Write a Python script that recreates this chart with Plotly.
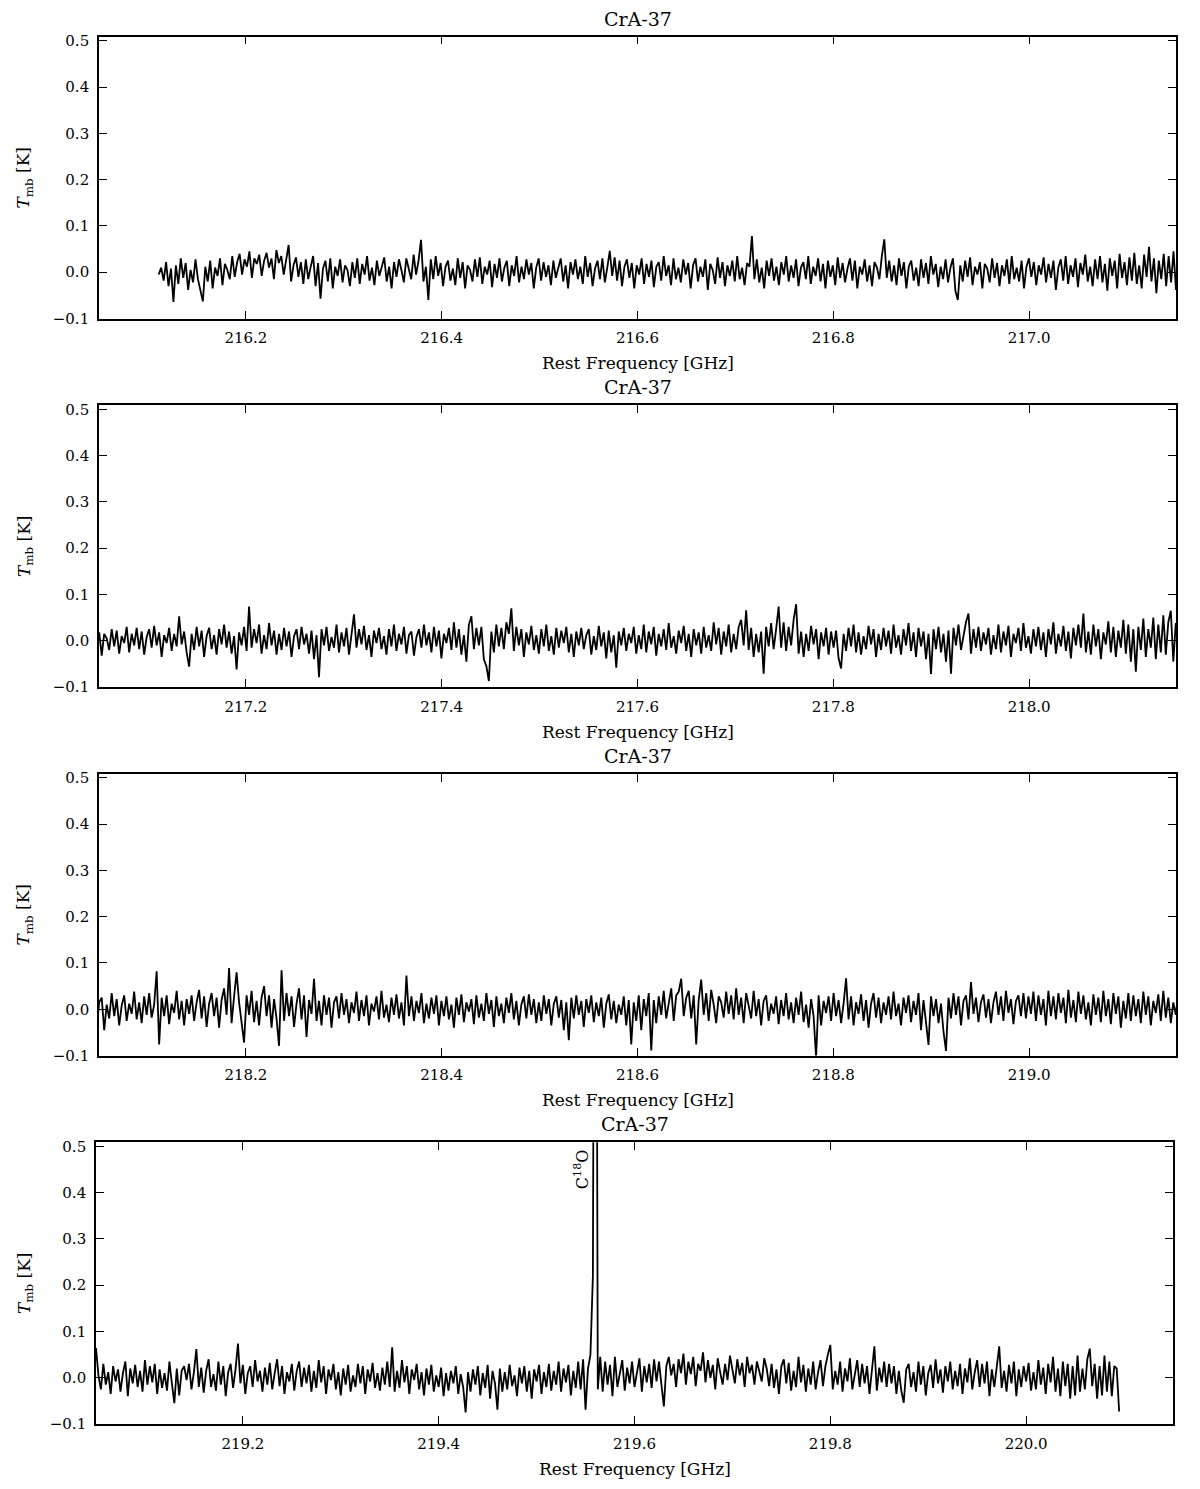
import numpy as np
import plotly.graph_objects as go

# ---------------- data (main-beam temperature in mK) ----------------
# channel grid of each panel: first channel [GHz], last channel [GHz], number of channels
grid1 = (216.111, 217.160, 420)
grid2 = (217.040, 218.160, 440)
grid3 = (218.040, 219.160, 440)
grid4 = (219.0425, 220.095, 422)

tmb1_mK = [
    -5, 10, -18, 22, -30, 8, -64, 15, -25, 30, -12, 20, -38, 5, -22, 28, -15, -40, -63, 12,
    -20, 25, -35, 10, -8, 30, -28, 18, 5, -15, 35, -10, 22, 40, -5, 28, 12, 45, -12, 30,
    18, 38, -8, 25, 42, 10, 30, -15, 48, 20, 35, -5, 25, 59, -20, 15, 32, -10, 22, -25,
    28, -15, 12, 35, -30, 20, -57, 8, 25, -20, 30, -35, 12, -8, 28, -22, 15, 5, -30, 22,
    -12, 30, -25, 18, -5, 35, -18, 10, -28, 25, -8, 15, 32, -20, 12, -35, 22, -10, 28, 5,
    -22, 30, 10, -15, 38, -5, 25, 70, -20, 12, -60, 28, -15, 35, -8, 20, -30, 12, 25, -18,
    8, -28, 30, -12, 22, -35, 15, 5, -20, 28, -10, 32, -25, 12, -5, 25, -32, 18, -12, 30,
    -20, 10, 25, -30, 15, -8, 35, -22, 12, -15, 28, -5, 20, -35, 10, 30, -18, 22, -10, 15,
    -28, 25, -12, 8, 30, -20, 15, -35, 22, -5, 28, -15, 12, -25, 35, -10, 20, -30, 8, 25,
    -15, 30, -22, 10, 46, -8, 32, -18, 25, -30, 12, 28, -12, 20, -35, 15, -5, 30, -25, 18,
    -10, 25, -32, 12, 22, -18, 35, -8, 15, -28, 30, -15, 10, -22, 28, -5, 20, -35, 15, 30,
    -20, 12, -10, 28, -38, 18, 5, -25, 32, -12, 22, -30, 15, -8, 25, -20, 35, -15, 10, -28,
    20, 12, 78, -15, 28, -22, 10, -35, 25, -8, 30, -18, 12, -28, 22, -5, 35, -20, 15, -12,
    28, -30, 10, 22, -15, 35, -25, 12, -8, 30, -20, 18, -35, 25, -10, 15, -28, 32, -12, 20,
    -22, 8, 30, -18, 25, -35, 12, -5, 28, -20, 15, -30, 22, 10, -15, 35, 71, -12, 25, -20,
    15, -28, 30, -8, 22, -35, 12, 25, -18, 10, -30, 28, -12, 20, -25, 35, -5, 18, -32, 12,
    -15, 28, -22, 10, 30, -40, -60, 15, -20, 25, -10, 32, -28, 12, -5, 22, -35, 18, 8, -22,
    30, -12, 20, -30, 15, -8, 28, -25, 35, -15, 10, -20, 25, -35, 12, 30, -10, 22, -28, 15,
    -5, 32, -22, 18, -12, 25, -38, 10, 28, -18, 35, -25, 15, -10, 30, -32, 20, -5, 38, -20,
    12, -30, 28, -15, 35, -22, 18, -40, 30, -8, 25, -35, 40, -12, 22, -28, 32, -18, 42, -25,
    15, -35, 38, -10, 55, -20, 30, -45, 25, -15, 40, -30, 35, -22, 45, -38, 28, -15, 40, -25,
]

tmb2_mK = [
    12, -22, 28, -8, 18, -32, 15, 5, -20, 25, -12, 22, -28, 10, -5, 30, -25, 15, -10, 28,
    -18, 20, -30, 8, 25, -15, 32, -10, 18, -35, 12, -5, 28, -22, 15, -12, 53, -8, 20, -25,
    -56, 15, -20, 30, -12, 22, -35, 10, 28, -18, 12, -30, 25, -8, 35, -15, 20, -28, 10, -62,
    18, -10, 30, -22, 74, -15, 25, -5, 35, -28, 12, -18, 38, -10, 22, -30, 15, -20, 28, -12,
    20, -35, 10, 25, -18, 30, -8, 15, -28, 22, -40, 12, -79, 25, -10, 30, -22, 8, -15, 35,
    -25, 18, -12, 28, -30, 20, 57, -15, 25, -8, 32, -20, 12, -35, 22, -5, 28, -18, 10, -30,
    25, -12, 35, -22, 15, -8, 30, -28, 12, 20, -32, 8, 25, -15, 35, -10, 18, -25, 30, -12,
    22, -38, 15, -5, 28, -20, 40, -15, 25, -30, 12, -45, 35, 53, -18, 28, -10, 30, -40, -55,
    -87, 20, -25, 35, -12, 28, -18, 40, 15, 70, -22, 30, -10, 25, -35, 18, -8, 32, -20, 12,
    -28, 25, -12, 35, -22, 10, -30, 28, -15, 22, -5, 30, -25, 15, -35, 20, -10, 28, -18, 12,
    25, -30, 10, -20, 32, -12, 18, -38, 22, -25, 12, -58, 20, -10, 28, -22, 15, -5, 30, -28,
    12, -18, 35, -25, 20, -8, 30, -32, 15, -12, 25, -20, 38, -15, 10, -28, 22, -5, 32, -22,
    15, -35, 25, -10, 18, -28, 30, -15, 12, -22, 40, -8, 28, -30, 20, -12, 35, -25, 15, -18,
    30, 45, -10, 66, -20, 28, -35, 15, -25, 20, -71, 30, -12, 38, -18, 25, 74, -15, 40, -22,
    30, -10, 45, 79, -28, 20, -35, 15, -22, 32, -8, 25, -40, 18, -12, 28, -30, 20, -15, 22,
    -38, -60, 15, -22, 28, -12, 35, -25, 18, -30, 10, -18, 32, -8, 25, -35, 15, -20, 28, -12,
    22, -28, 35, -15, 12, -30, 25, -10, 38, -22, 18, -35, 28, -12, 20, -40, 15, -72, 25, -18,
    30, -25, 15, -45, 22, -71, 28, -10, 35, -20, 12, 40, 59, -28, 25, -15, 30, -22, 18, -8,
    28, -30, 12, -18, 35, -25, 20, -10, 32, -35, 15, -5, 28, -22, 38, -15, 10, -28, 25, -12,
    30, -20, 18, -35, 25, -8, 40, -28, 15, -12, 32, -22, 20, -38, 28, -10, 35, -15, 59, -25,
    20, -30, 35, -12, 25, -40, 18, -8, 42, -25, 30, -35, 22, -15, 45, -28, 35, -45, 25, -67,
    30, -20, 48, -35, 25, -15, 50, -40, 35, -25, 55, -30, 40, 65, -45, 38, -20, 50, -35, 45,
]

tmb3_mK = [
    5, -28, 20, -40, 15, 25, -45, 10, -20, 35, -15, 22, -35, 8, 30, -25, 12, -10, 38, -22,
    15, -30, 28, -12, 35, -18, 10, 82, -76, 25, -15, 30, -32, 12, -8, 40, -22, 18, -35, 22,
    -10, 30, -25, 15, 42, -20, 28, -38, 12, 35, -15, 25, -40, 20, 45, -12, 89, -30, 28, 80,
    15, -25, -72, 30, -12, 40, -28, 18, -35, 25, 50, -15, 30, -40, 22, -20, -79, 84, -25, 35,
    -15, 28, -38, 12, 45, -22, 30, -60, 20, -10, 66, -25, 18, -35, 30, -12, 25, -40, 15, 28,
    -20, 35, -12, 22, -30, 15, -8, 38, -25, 20, -15, 30, -35, 12, -5, 28, -22, 40, -18, 10,
    -28, 25, -12, 32, -20, 15, -35, 73, -15, 28, -25, 18, -8, 35, -30, 12, -20, 25, -10, 30,
    -35, 18, -15, 28, -22, 10, -40, 25, -12, 32, -28, 15, -5, 22, -32, 30, -18, 12, -25, 35,
    -10, 20, -38, 28, -15, 12, -30, 25, -8, 35, -22, 18, -35, 10, 28, -20, 32, -12, 22, -30,
    15, -25, 30, -10, 22, -35, 12, 28, -18, 20, -45, 15, -67, 25, -20, 30, -12, 18, -38, 22,
    -8, 30, -28, 15, -15, 25, -40, 12, 32, -22, 18, -30, 10, -12, 28, -35, 20, -76, 15, -25,
    30, -45, 22, -15, 35, -89, 20, -30, 28, -12, 40, -20, 15, 45, -25, 30, 38, 66, -15, 25,
    40, -20, 30, -76, 20, 64, -12, 35, -25, 42, 10, -30, 28, 15, -18, 38, -10, 30, -22, 45,
    -12, 25, -30, 35, 8, -20, 40, -15, 22, -35, 18, 30, -25, 12, -10, 28, -32, 20, -15, 35,
    -22, 15, -30, 25, -12, 38, -28, 10, -40, 22, -15, -105, 30, -35, 18, -8, 28, -25, 35, -15,
    20, -30, 12, 67, -22, 28, -35, 15, -10, 32, -25, 20, -40, 12, 35, -18, 25, -30, 15, -12,
    28, -22, 38, -15, 12, -35, 25, -8, 30, -28, 18, -12, 35, -45, 20, -25, -77, 28, -15, 22,
    -30, 12, -48, -90, 25, -20, 35, -12, 28, -35, 18, 30, -22, 59, -10, 25, -28, 15, 32, -18,
    22, -30, 15, 38, -12, 28, -25, 40, -8, 22, -32, 18, 30, -15, 35, -20, 28, -10, 38, -25,
    30, -12, 22, -35, 40, -15, 28, -22, 35, -8, 25, -30, 42, -18, 20, -28, 38, -10, 30, -22,
    15, -35, 32, -12, 25, -28, 40, -15, 22, -32, 35, -10, 28, -40, 18, -20, 35, -25, 30, -15,
    22, -30, 38, -12, 28, -35, 18, -8, 32, -25, 40, -18, 25, -30, 15, -12, 35, -28, 22, -15,
]

tmb4_mK = [
    40, -10, 20, 64, 5, -25, 30, -15, 12, -35, 25, -8, 18, -30, 10, 35, -40, 20, -12, 28,
    -20, 15, -30, 38, -15, 25, -10, 30, -35, 18, -22, 10, -28, 35, -12, -55, 20, -38, 15, 25,
    -5, 30, -25, 12, 62, -20, 22, -32, 15, 40, -20, 8, -28, 35, -15, 25, -40, 12, 30, -22,
    18, 74, -12, 28, -35, 10, 25, -20, 38, -8, 15, -30, 22, -15, 32, -25, 10, 40, -18, 25,
    -35, 12, -8, 30, -28, 15, 35, -20, 22, -12, 28, -30, 15, -22, 38, -10, 25, -35, 18, -5,
    30, -25, 12, -38, 20, -15, 28, -30, 5, -20, 30, -12, 25, -35, 18, -8, 32, -22, 10, -28,
    22, -15, 35, -20, 66, -30, 15, -22, 38, -10, 25, -35, 18, -5, 30, -25, 12, -38, 20, -15,
    28, -30, 5, -20, 22, -40, 10, -28, 15, -12, 25, -35, 8, -20, -75, 12, -30, 18, -15, 25,
    -38, 10, -22, 28, -45, 15, -12, -69, 20, -30, 12, -25, 28, -18, 5, -40, 22, -12, 25, -30,
    15, -45, 18, -8, 28, -35, 12, -20, 30, -28, 15, -15, 35, -30, 20, -10, 28, -38, 15, -22,
    35, -25, 40, -69, 20, 50, 220, 2000, -25, 45, -30, 35, -15, 28, -40, 45, -20, 10, 38, -28,
    22, -12, 35, -20, 15, 42, -30, 25, -10, 30, -22, 40, -8, 35, -15, -62, 25, 45, 5, 30,
    -20, 40, 10, 52, -15, 35, 8, 45, -18, 30, 15, 55, -10, 38, 0, 28, -25, 42, 12, -15,
    30, -5, 48, 18, -12, 40, 5, 32, -20, 45, 10, 28, -15, 35, 12, -8, 42, 20, -18, 30,
    -22, 18, -35, 25, 40, -12, 32, -28, 15, -20, 45, -10, 28, -30, 20, -15, 35, -25, 12, 38,
    -18, 25, 50, 71, -25, 15, -15, 35, -30, 20, -8, 42, -25, 12, 38, -20, 30, -12, 25, -35,
    15, 68, -28, 22, -10, 35, -20, 30, -12, 25, -35, 15, -28, -54, 18, 30, -20, 12, -30, 35,
    -15, 25, -38, 10, 28, -22, 40, -12, 18, -32, 25, -8, 35, -25, 15, -18, 30, -35, 20, -10,
    42, -25, 12, 38, -20, 30, -12, 35, -40, 18, -20, 25, 68, -22, 15, -30, 28, -12, 35, -40,
    18, -20, 25, -8, 32, -28, 12, -25, 38, -15, 22, -35, 30, -10, 45, -30, 20, -40, 35, -18,
    30, -45, 25, -38, 48, -30, 20, -25, 40, 63, -18, 30, -45, 25, -38, 48, -30, 35, -40, 25,
    20, -73,
]

# axis windows [GHz]
xranges = [(216.05, 217.15), (217.05, 218.15), (218.05, 219.15), (219.05, 220.15)]
xticks = [[216.2, 216.4, 216.6, 216.8, 217.0],
          [217.2, 217.4, 217.6, 217.8, 218.0],
          [218.2, 218.4, 218.6, 218.8, 219.0],
          [219.2, 219.4, 219.6, 219.8, 220.0]]
yticks = [-0.1, 0.0, 0.1, 0.2, 0.3, 0.4, 0.5]
yrange = (-0.1, 0.509)

source_name = "CrA-37"
line_name = "C<sup>18</sup>O"
line_freq = 219.560
xlabel = "Rest Frequency [GHz]"
ylabel = "<i>T</i><sub>mb</sub> [K]"

# ---------------- figure ----------------
W, H = 1200, 1489
FONT = "DejaVu Serif"
tops = [32, 404, 776, 1148]
hpx = 284.5
xdom_px = [(99, 1176), (99, 1176), (99, 1176), (96, 1173)]

grids = [grid1, grid2, grid3, grid4]
series = [tmb1_mK, tmb2_mK, tmb3_mK, tmb4_mK]

fig = go.Figure()
annotations = []
for k in range(4):
    f0, f1, n = grids[k]
    freq = np.linspace(f0, f1, n)
    tmb = np.array(series[k], dtype=float) / 1000.0
    sx = "" if k == 0 else str(k + 1)
    fig.add_trace(go.Scatter(x=freq, y=tmb, mode="lines",
                             line=dict(color="black", width=1.8),
                             xaxis="x" + sx, yaxis="y" + sx, showlegend=False,
                             hoverinfo="skip"))
    top = tops[k]
    ydom = [1 - (top + hpx) / H, 1 - top / H]
    xdom = [xdom_px[k][0] / W, xdom_px[k][1] / W]
    axis_common = dict(showline=True, linecolor="black", linewidth=1.6, mirror="ticks",
                       ticks="inside", ticklen=8, tickwidth=1.2, tickcolor="black",
                       showgrid=False, zeroline=False, ticklabelstandoff=5,
                       tickfont=dict(family=FONT, size=15, color="black"))
    fig.layout["xaxis" + sx] = dict(domain=xdom, range=list(xranges[k]), anchor="y" + sx,
                                    tickvals=xticks[k], tickformat=".1f", **axis_common)
    fig.layout["yaxis" + sx] = dict(domain=ydom, range=list(yrange), anchor="x" + sx,
                                    tickvals=yticks, tickformat=".1f", **axis_common)
    xc = (xdom_px[k][0] + xdom_px[k][1]) / 2 / W
    annotations.append(dict(text=source_name, x=xc, y=1 - (top - 18) / H, xref="paper", yref="paper",
                            showarrow=False, xanchor="center", yanchor="middle",
                            font=dict(family=FONT, size=19, color="black")))
    annotations.append(dict(text=xlabel, x=xc, y=1 - (top + hpx + 45) / H, xref="paper", yref="paper",
                            showarrow=False, xanchor="center", yanchor="middle",
                            font=dict(family=FONT, size=17, color="black")))
    annotations.append(dict(text=ylabel, x=25 / W, y=1 - (top + hpx / 2) / H, xref="paper", yref="paper",
                            showarrow=False, xanchor="center", yanchor="middle", textangle=-90,
                            font=dict(family=FONT, size=17, color="black")))

annotations.append(dict(text=line_name, x=line_freq - 0.014, y=0.45, xref="x4", yref="y4",
                        showarrow=False, xanchor="center", yanchor="middle", textangle=-90,
                        font=dict(family=FONT, size=16, color="black")))

fig.update_layout(width=W, height=H, margin=dict(l=0, r=0, t=0, b=0),
                  paper_bgcolor="white", plot_bgcolor="white",
                  annotations=annotations, showlegend=False)

fig.write_html("out.html", config={"displayModeBar": False},
               post_script="document.body.style.margin='0px';")
